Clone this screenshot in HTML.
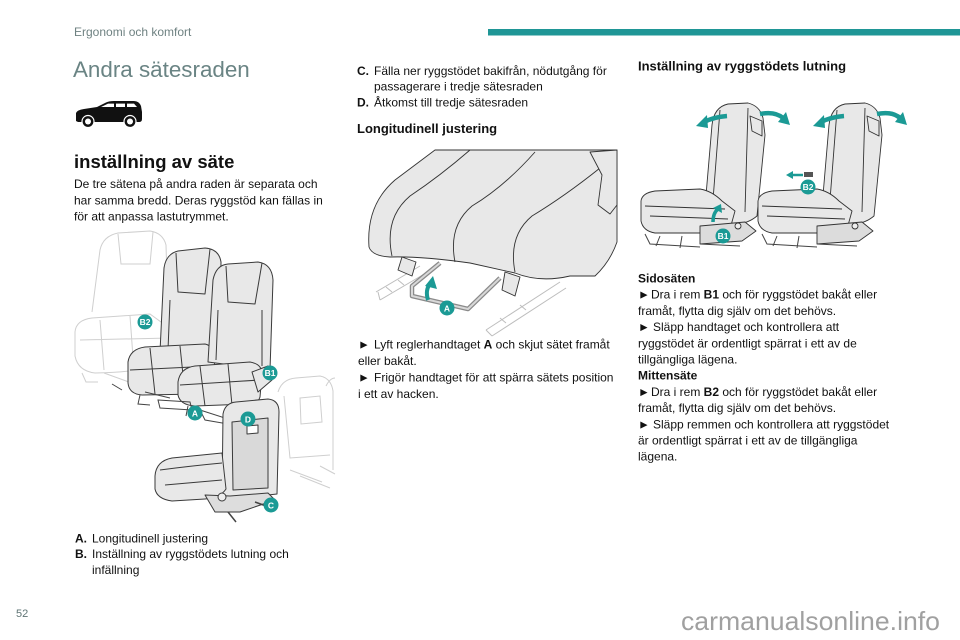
<!DOCTYPE html>
<html><head><meta charset="utf-8"><style>
html,body{margin:0;padding:0;background:#fff;}
svg{display:block;}
text{font-family:"Liberation Sans",Arial,sans-serif;}
</style></head><body>
<svg width="960" height="640" viewBox="0 0 960 640" xmlns="http://www.w3.org/2000/svg">
<rect width="960" height="640" fill="#fff"/>
<!-- header -->
<text x="74" y="36" font-size="12" fill="#6f8282">Ergonomi och komfort</text>
<rect x="488" y="29" width="472" height="6.5" fill="#1f9696"/>
<text x="73" y="77" font-size="22.4" fill="#6a8484">Andra sätesraden</text>

<!-- car icon -->
<g>
<path fill="#111" d="M76,121 L76,113 Q77,110 84,109 L97,107 L106,102.5 Q109,101 114,101 L134,101 Q139,101 141,106 L142,112 L142,119 Q142,122 139,122 L78,122 Z"/>
<path fill="#fff" d="M101,107 L108,103.6 L114,103.6 L114,107 Z"/>
<path fill="#fff" d="M116,103.6 L125,103.6 L125,107 L116,107 Z"/>
<path fill="#fff" d="M127,103.6 L134,103.6 L137,107 L127,107 Z"/>
<circle cx="88" cy="121.5" r="6" fill="#111" stroke="#fff" stroke-width="1.2"/>
<circle cx="88" cy="121.5" r="3" fill="#fff"/>
<circle cx="130" cy="121.5" r="6" fill="#111" stroke="#fff" stroke-width="1.2"/>
<circle cx="130" cy="121.5" r="3" fill="#fff"/>
</g>

<text x="74" y="168" font-size="18.5" font-weight="bold" fill="#111">inställning av säte</text>
<g font-size="12" fill="#111">
<text x="74" y="188">De tre sätena på andra raden är separata och</text>
<text x="74" y="204.3">har samma bredd. Deras ryggstöd kan fällas in</text>
<text x="74" y="220.6">för att anpassa lastutrymmet.</text>
</g>

<!-- LEFT ILLUSTRATION -->
<g fill="none" stroke="#cfcfcf" stroke-width="1">
<path d="M92,312 L100,250 Q103,236 118,233 L150,231 Q163,233 166,245 L168,312"/>
<path d="M118,234 L121,264 L150,264 L153,232"/>
<path d="M75,332 Q76,320 92,318 L150,314 L172,330 L172,360 Q150,372 95,373 Q78,371 75,356 Z"/>
<path d="M100,320 L104,370 M130,316 L134,371 M80,340 L170,338"/>
<path d="M82,373 L86,382 L98,382 M104,373 L140,386 L152,380 M160,366 L165,378"/>
<path d="M278,392 Q282,379 296,378 L320,376 Q331,378 333,391 L333,470"/>
<path d="M284,396 L290,458 L330,455"/>
<path d="M300,398 L320,396 L322,422 L301,424 Z"/>
<path d="M290,470 L322,482 M300,476 L330,488 M320,466 L335,474"/>
<path d="M326,386 Q330,378 335,378"/>
</g>
<g stroke="#3a3a3a" stroke-width="1" fill="#e8e8e8" stroke-linejoin="round">
<!-- seat A -->
<path d="M160,352 L164,268 Q166,254 178,251 L205,248 Q219,249 221,262 L220,355 Z"/>
<path fill="none" d="M176,253 L178,292 L205,294 L210,249 M170,300 L168,350 M212,300 L212,352"/>
<path d="M128,362 Q130,349 145,347 L205,344 Q214,346 215,358 L213,386 Q211,394 200,394 L142,395 Q129,394 128,383 Z"/>
<path fill="none" d="M150,348 L155,394 M180,346 L185,394 M130,370 L213,366"/>
<!-- seat B -->
<path d="M208,362 L213,280 Q216,265 228,264 L258,262 Q272,264 273,280 L270,370 Z"/>
<path fill="none" d="M226,266 L228,302 L255,304 L262,263 M218,310 L216,360 M262,310 L262,366"/>
<path d="M178,382 Q180,368 195,366 L250,362 Q262,364 262,374 L260,397 Q258,404 248,404 L195,406 Q180,405 178,395 Z"/>
<path fill="none" d="M200,366 L205,406 M228,364 L232,405 M180,385 L260,380"/>
<path d="M252,372 L268,366 L272,380 L258,392 Z"/>
</g>
<g stroke="#444" stroke-width="1" fill="none">
<path d="M140,395 L138,404 L150,405 M158,400 L190,402 L192,410 L160,408 Z"/>
<path d="M188,406 L186,416 M200,410 L225,418 L228,424 L205,420 Z M240,405 L236,420 L246,422"/>
<path d="M112,384 L122,390 M145,392 L170,398"/>
</g>
<!-- lower seat -->
<g stroke="#3a3a3a" stroke-width="1" fill="#e8e8e8" stroke-linejoin="round">
<path d="M222,500 L223,414 Q225,403 236,402 L268,399 Q279,400 279,412 L277,494 Z"/>
<path fill="#d9d9d9" d="M232,422 L268,418 L268,488 L233,490 Z"/>
<path fill="#fff" d="M247,426 L258,425 L258,433 L247,434 Z"/>
<path d="M155,476 Q156,461 172,458 L222,453 L226,489 Q220,498 205,499 L172,501 Q157,499 155,489 Z"/>
<path fill="none" d="M160,470 Q190,466 222,463 M165,485 L222,480"/>
<path fill="#ddd" d="M205,495 L230,496 L268,493 L275,500 L240,512 L215,512 Z"/>
<circle cx="222" cy="497" r="4" fill="#eee"/>
</g>
<path d="M228,512 L236,522 M255,502 L266,506" stroke="#444" stroke-width="1.5" fill="none"/>

<!-- teal badges left -->
<g fill="#1b9a95">
<circle cx="145" cy="322" r="7.5"/>
<circle cx="270" cy="373" r="7.5"/>
<circle cx="195" cy="413" r="7.5"/>
<circle cx="248" cy="419" r="7.5"/>
<circle cx="271" cy="505" r="7.5"/>
</g>
<g fill="#fff" font-size="8.5" font-weight="bold" text-anchor="middle">
<text x="145" y="325.2">B2</text>
<text x="270" y="376.2">B1</text>
<text x="195" y="416.5">A</text>
<text x="248" y="422.5">D</text>
<text x="271" y="508.5">C</text>
</g>

<g font-size="12" fill="#111">
<text x="75" y="542.3"><tspan font-weight="bold">A.</tspan><tspan x="92">Longitudinell justering</tspan></text>
<text x="75" y="558"><tspan font-weight="bold">B.</tspan><tspan x="92">Inställning av ryggstödets lutning och</tspan></text>
<text x="92" y="574">infällning</text>
</g>

<!-- MIDDLE COLUMN -->
<g font-size="12" fill="#111">
<text x="357" y="75"><tspan font-weight="bold">C.</tspan><tspan x="374">Fälla ner ryggstödet bakifrån, nödutgång för</tspan></text>
<text x="374" y="90.7">passagerare i tredje sätesraden</text>
<text x="357" y="106.3"><tspan font-weight="bold">D.</tspan><tspan x="374">Åtkomst till tredje sätesraden</tspan></text>
</g>
<text x="357" y="133" font-size="13" font-weight="bold" fill="#111">Longitudinell justering</text>

<!-- middle illustration -->
<g fill="none" stroke="#bdbdbd" stroke-width="1">
<path d="M376,292 L420,266 M380,300 L426,273 M378,292 L380,300"/>
<path d="M386,287 L392,292 M398,280 L404,285"/>
<path d="M486,330 L560,282 M492,336 L566,288 M486,330 L492,336"/>
<path d="M500,318 L506,323 M520,305 L526,310"/>
</g>
<g stroke="#333" stroke-width="0.9" fill="#e8e8e8" stroke-linejoin="round">
<path d="M369,247 Q366,205 395,180 L435,150 L617,150 L617,242 Q610,262 595,276 L570,276 Q540,283 515,273 L470,263 Q420,256 390,257 Q372,256 369,247 Z"/>
<path fill="none" d="M392,256 Q384,218 410,196 Q440,176 470,150"/>
<path fill="none" d="M455,262 Q448,226 472,206 Q505,186 535,152"/>
<path fill="none" d="M515,272 Q508,236 532,216 Q565,196 600,168"/>
<path d="M590,152 L602,175 L598,205 L610,214 L617,205 L617,150 Z"/>
<path d="M402,257 L398,270 L412,276 L416,262 Z"/>
<path d="M505,272 L502,290 L515,296 L520,277 Z"/>
</g>
<path d="M440,263 L412,286 L412,296 L468,309 L500,278" stroke="#8a8a8a" stroke-width="4.5" fill="none" stroke-linejoin="round"/>
<path d="M440,263 L412,286 L412,296 L468,309 L500,278" stroke="#d8d8d8" stroke-width="2" fill="none" stroke-linejoin="round"/>
<path d="M428,300 Q425,290 430,284" stroke="#1b9a95" stroke-width="4" fill="none"/>
<polygon points="425,286 433,276 437,289" fill="#1b9a95"/>
<circle cx="447" cy="308" r="7.5" fill="#1b9a95"/>
<text x="447" y="311.5" font-size="8.5" font-weight="bold" fill="#fff" text-anchor="middle">A</text>

<g font-size="12" fill="#111">
<text x="358" y="348.3"><tspan>►</tspan><tspan x="374">Lyft reglerhandtaget </tspan><tspan font-weight="bold">A</tspan><tspan> och skjut sätet framåt</tspan></text>
<text x="358" y="365">eller bakåt.</text>
<text x="358" y="381.5"><tspan>►</tspan><tspan x="374">Frigör handtaget för att spärra sätets position</tspan></text>
<text x="358" y="398">i ett av hacken.</text>
</g>

<!-- RIGHT COLUMN -->
<text x="638" y="70.7" font-size="13" font-weight="bold" fill="#111">Inställning av ryggstödets lutning</text>

<defs>
<g id="rseat">
<g stroke="#333" stroke-width="0.9" fill="#e8e8e8" stroke-linejoin="round">
<path d="M705,207 L712,125 Q714,107 728,104 L748,103 Q760,106 763,118 L765,135 L757,216 Q745,226 730,223 Z"/>
<path fill="none" d="M720,110 L713,200 M748,108 L745,212"/>
<path d="M750,116 L762,121 L762,136 L752,131 Z"/>
<path d="M641,201 Q642,193 655,191 L700,189 Q712,191 722,201 L735,211 L730,229 Q720,234 705,233 L655,233 Q643,231 641,221 Z"/>
<path fill="none" d="M645,206 L725,209 M650,216 L728,219"/>
<path fill="#dcdcdc" d="M700,226 L745,222 L756,231 L742,241 L700,244 Z"/>
<circle cx="738" cy="226" r="3" fill="#eee"/>
</g>
<g stroke="#444" stroke-width="1" fill="none">
<path d="M645,234 L650,244 L700,247 M660,236 L656,246 M682,236 L680,248 M700,244 L740,246"/>
</g>
</g>
</defs>
<use href="#rseat"/>
<use href="#rseat" transform="translate(117,0)"/>

<g stroke="#1b9a95" stroke-width="4.5" fill="none">
<path d="M727,116 Q714,117 704,122"/>
<path d="M760,114 Q775,111 783,118"/>
<path d="M844,116 Q831,117 821,122"/>
<path d="M877,114 Q892,111 900,118"/>
<path d="M803,175 L792,175" stroke-width="2.5"/>
<path d="M713,222 Q713,213 718,209" stroke-width="3.5"/>
</g>
<g fill="#1b9a95">
<polygon points="696,126 707,115 708,128"/>
<polygon points="790,125 778,122 786,112"/>
<polygon points="813,126 824,115 825,128"/>
<polygon points="907,125 895,122 903,112"/>
<polygon points="786,175 793,171 793,179"/>
<polygon points="721,204 713,208 722,213"/>
<circle cx="723" cy="236" r="7.5"/>
<circle cx="808" cy="187" r="7.5"/>
</g>
<rect x="804" y="172" width="9" height="5" fill="#555"/>
<g fill="#fff" font-size="8.5" font-weight="bold" text-anchor="middle">
<text x="723" y="239.2">B1</text>
<text x="808" y="190.2">B2</text>
</g>

<g font-size="12" fill="#111">
<text x="638" y="282.5" font-weight="bold">Sidosäten</text>
<text x="638" y="298.7"><tspan>►</tspan><tspan x="651">Dra i rem </tspan><tspan font-weight="bold">B1</tspan><tspan> och för ryggstödet bakåt eller</tspan></text>
<text x="638" y="314.9">framåt, flytta dig själv om det behövs.</text>
<text x="638" y="331.1"><tspan>►</tspan><tspan x="653">Släpp handtaget och kontrollera att</tspan></text>
<text x="638" y="347.3">ryggstödet är ordentligt spärrat i ett av de</text>
<text x="638" y="363.5">tillgängliga lägena.</text>
<text x="638" y="379.7" font-weight="bold">Mittensäte</text>
<text x="638" y="395.9"><tspan>►</tspan><tspan x="651">Dra i rem </tspan><tspan font-weight="bold">B2</tspan><tspan> och för ryggstödet bakåt eller</tspan></text>
<text x="638" y="412.1">framåt, flytta dig själv om det behövs.</text>
<text x="638" y="428.3"><tspan>►</tspan><tspan x="653">Släpp remmen och kontrollera att ryggstödet</tspan></text>
<text x="638" y="444.5">är ordentligt spärrat i ett av de tillgängliga</text>
<text x="638" y="460.7">lägena.</text>
</g>

<!-- footer -->
<text x="16" y="617" font-size="11" fill="#5f7474">52</text>
<text x="681" y="630" font-size="26" fill="#a0a0a0" textLength="259" lengthAdjust="spacingAndGlyphs">carmanualsonline.info</text>
</svg>
</body></html>
